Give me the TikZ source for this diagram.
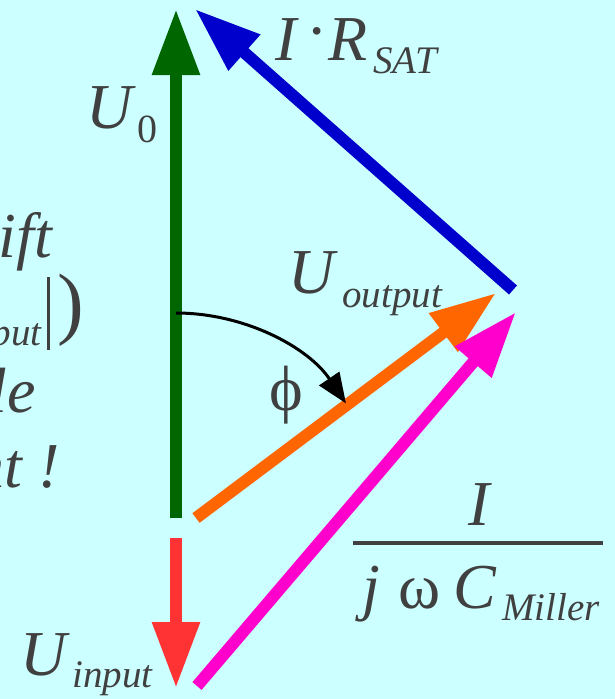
\documentclass[tikz,border=0pt]{standalone}
\usepackage{fontspec}
\setmainfont{Liberation Serif}
\usetikzlibrary{arrows.meta}
\definecolor{bgcyan}{RGB}{204,255,255}
\definecolor{txtgray}{RGB}{64,64,64}
\definecolor{vgreen}{RGB}{0,102,0}
\definecolor{vblue}{RGB}{0,0,204}
\definecolor{vorange}{RGB}{255,102,0}
\definecolor{vpink}{RGB}{255,0,204}
\definecolor{vred}{RGB}{255,51,51}
\newcommand{\bigsize}{\fontsize{64}{64}\selectfont}
\newcommand{\subsize}{\fontsize{39}{39}\selectfont}
\begin{document}
\begin{tikzpicture}[x=1pt,y=-1pt,
  vec/.style={line width=12pt,-{Triangle[length=66pt,width=45pt]}},
  lbl/.style={text=txtgray,inner sep=0pt,anchor=base west,font=\bigsize\itshape},
  sublbl/.style={text=txtgray,inner sep=0pt,anchor=base west,font=\subsize\itshape}]
% background
\fill[bgcyan] (0,0) rectangle (615,699);
\useasboundingbox (0,0) rectangle (615,699);
\clip (0,0) rectangle (615,699);
% end points of the phasors
\coordinate (o) at (176,518);
\coordinate (u0tip) at (176,9);
\coordinate (uin0) at (176,538);
\coordinate (uintip) at (176,688);
\coordinate (sat0) at (513,290);
\coordinate (sattip) at (195,9);
\coordinate (out0) at (196,518);
\coordinate (outtip) at (496,293);
\coordinate (cm0) at (197,686);
\coordinate (cmtip) at (516,312);
% phasors
\draw[vec,vgreen] (o) -- (u0tip);
\draw[vec,vred] (uin0) -- (uintip);
\draw[vec,vblue] (sat0) -- (sattip);
\draw[vec,vorange] (out0) -- (outtip);
\draw[vec,vpink] (cm0) -- (cmtip);
% phase angle
\coordinate (phi0) at (176,313);
\draw[line width=3pt,-{Triangle[length=30pt,width=24pt]}] (phi0) arc[start angle=-90,end angle=-34,radius=205];
\node[text=txtgray,inner sep=0pt,font=\bigsize] (phi) at (286,395) {ϕ};
% labels of the phasors
\node[lbl] (u0) at (86,128) {U};
\node[sublbl,font=\fontsize{40}{40}\selectfont] (u0sub) at (137,142) {0};
\node[lbl] (ir) at (275,60) {I};
\node[text=txtgray,inner sep=0pt,font=\bigsize] (irdot) at (317,40) {·};
\node[lbl] (rsat) at (328,60) {R};
\node[sublbl] (rsatsub) at (373,73) {SAT};
\node[lbl] (uout) at (288,293) {U};
\node[sublbl] (uoutsub) at (342,307) {output};
\node[lbl] (uin) at (20,675) {U};
\node[sublbl] (uinsub) at (72,687) {input};
% fraction I / (j omega C_Miller)
\node[lbl,anchor=base] (num) at (479,525) {I};
\draw[line width=4pt,txtgray] (353,543) -- (603,543);
\node[lbl] (jj) at (362,608) {j};
\node[text=txtgray,inner sep=0pt,anchor=base west,font=\bigsize] (om) at (398,608) {ω};
\node[lbl] (cc) at (453,608) {C};
\node[sublbl] (ccsub) at (502,620) {Miller};
% cut text at the left edge
\node[lbl,anchor=base east] (t1) at (52,257) {ift};
\node[sublbl,anchor=base east] (t2) at (42,345) {put};
\draw[line width=3pt,txtgray] (48.5,277) -- (48.5,350);
\node[text=txtgray,inner sep=0pt,anchor=base west,font=\fontsize{80}{80}\selectfont] (t2p) at (57,329) {)};
\node[lbl,anchor=base east] (t3) at (36,412) {le};
\node[lbl,anchor=base east] (t4) at (60,487) {nt !};
\end{tikzpicture}
\end{document}
